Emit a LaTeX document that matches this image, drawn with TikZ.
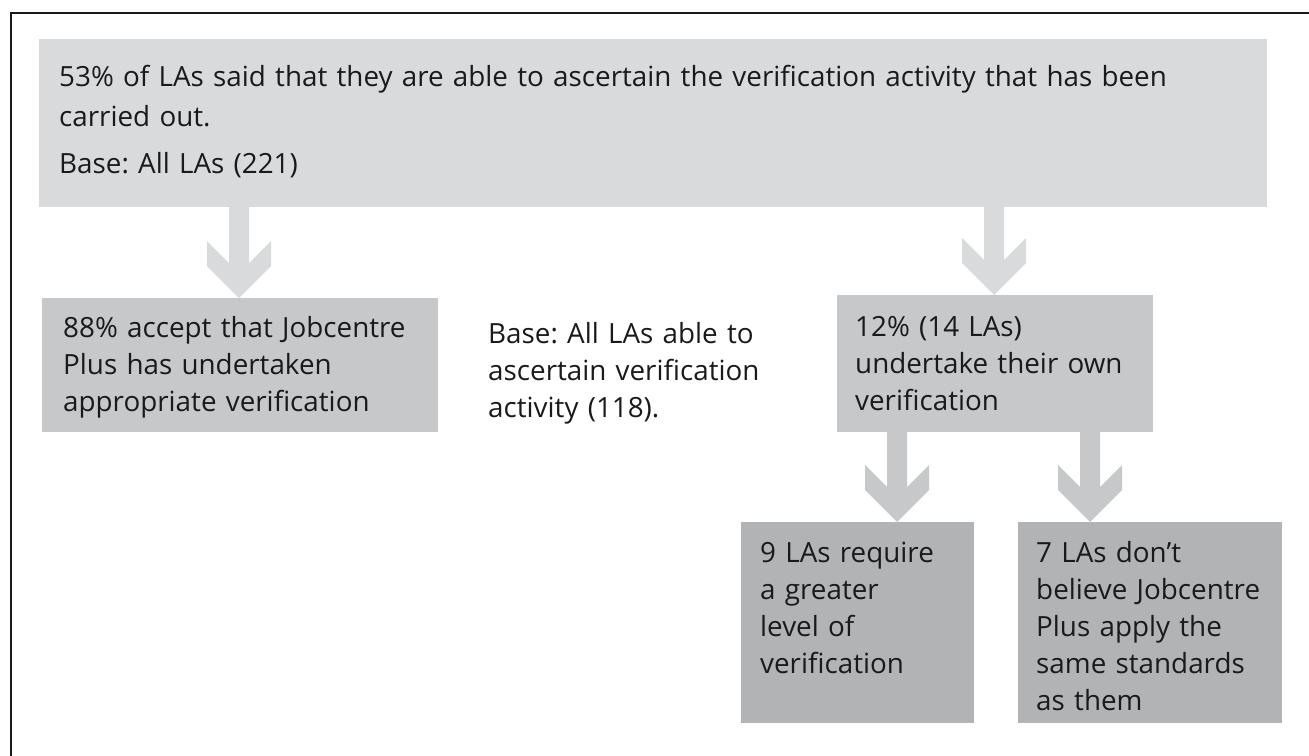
\documentclass[tikz,border=0pt]{standalone}
\usepackage{fontspec}
\setmainfont{Open Sans}
\frenchspacing
\usetikzlibrary{calc}
\definecolor{lightg}{HTML}{D9DADC}
\definecolor{midg}{HTML}{C7C8CA}
\definecolor{darkg}{HTML}{B2B3B5}
\definecolor{ink}{HTML}{1A1A1A}
\tikzset{
  box/.style={fill=#1, draw=none, anchor=north west, inner sep=0pt, outer sep=0pt},
  txt/.style={anchor=base west, inner sep=0pt, align=left, text=ink, text width=400pt, font=\fontsize{27.8}{37}\selectfont},
}
% chevron block arrow: #1 start (top centre), #2 end (tip), #3 colour
\newcommand\blockarrow[3]{%
  \fill[#3] let \p1=(#1), \p2=(#2) in
    (\x1-10pt,\y1) -- (\x1+10pt,\y1) -- (\x1+10pt,\y2+35pt) -- (\x1+32pt,\y2+57pt)
    -- (\x1+32pt,\y2+32pt) -- (\x1,\y2) -- (\x1-32pt,\y2+32pt) -- (\x1-32pt,\y2+57pt)
    -- (\x1-10pt,\y2+35pt) -- cycle;}
\begin{document}
\begin{tikzpicture}[x=1pt,y=-1pt]
\useasboundingbox (0,0) rectangle (1309,755);
% frame
\draw[line width=2.5pt, black!90] (11,760) -- (11,13) -- (1315,13);
% boxes
\node[box=lightg, minimum width=1228pt, minimum height=168pt] (top) at (39,39) {};
\node[box=midg, minimum width=396pt, minimum height=134pt] (acc) at (42,298) {};
\node[box=midg, minimum width=316pt, minimum height=137pt] (own) at (837,295) {};
\node[box=darkg, minimum width=233pt, minimum height=201pt] (req) at (741,522) {};
\node[box=darkg, minimum width=264pt, minimum height=201pt] (bel) at (1018,522) {};
% texts
\node[txt, text width=1220pt, font=\fontsize{27.8}{40}\selectfont] (ttop) at (59,86)
  {53\% of LAs said that they are able to ascertain the verification activity that has been\\carried out.\\[7pt]Base: All LAs (221)};
\node[txt] (tacc) at (63,337)
  {88\% accept that Jobcentre\\Plus has undertaken\\appropriate verification};
\node[txt] (tbase) at (488,343)
  {Base: All LAs able to\\ascertain verification\\activity (118).};
\node[txt] (town) at (855,336)
  {12\% (14 LAs)\\undertake their own\\verification};
\node[txt] (treq) at (760,562)
  {9 LAs require\\a greater\\level of\\verification};
\node[txt] (tbel) at (1036,562)
  {7 LAs don’t\\believe Jobcentre\\Plus apply the\\same standards\\as them};
% arrows
\coordinate (a1s) at (top.south -| 239,0);
\coordinate (a1e) at (acc.north -| 239,0);
\coordinate (a2s) at (top.south -| 994,0);
\coordinate (a2e) at (own.north -| 994,0);
\coordinate (a3s) at (own.south -| 897,0);
\coordinate (a3e) at (req.north -| 897,0);
\coordinate (a4s) at (own.south -| 1090,0);
\coordinate (a4e) at (bel.north -| 1090,0);
\blockarrow{a1s}{a1e}{lightg}
\blockarrow{a2s}{a2e}{lightg}
\blockarrow{a3s}{a3e}{midg}
\blockarrow{a4s}{a4e}{midg}
\end{tikzpicture}
\end{document}
